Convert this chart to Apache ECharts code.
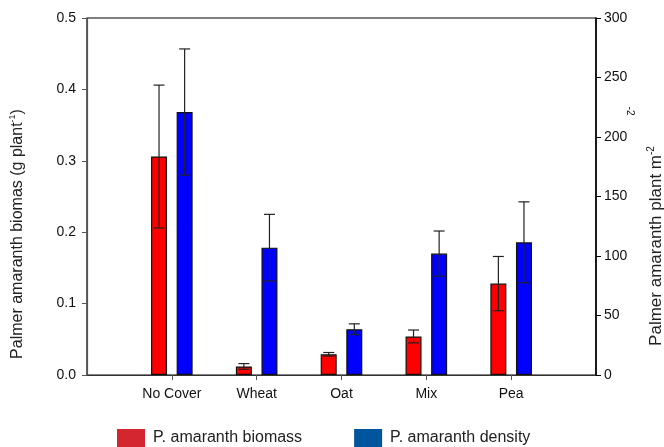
<!DOCTYPE html>
<html>
<head>
<meta charset="utf-8">
<script src="https://cdn.jsdelivr.net/npm/echarts@6/dist/echarts.min.js"></script>
<style>html,body{margin:0;padding:0;background:#fff}#c{width:664px;height:447px}</style>
</head>
<body>
<div id="c"></div>
<script>
// Data
const categories = ['No Cover', 'Wheat', 'Oat', 'Mix', 'Pea'];
const biomass = [0.306, 0.012, 0.029, 0.054, 0.128];
const biomassErr = [0.100, 0.004, 0.0025, 0.009, 0.038];
const density = [221, 107, 38.5, 102, 111.5];
const densityErr = [53, 28, 4.5, 19, 34];
const leftTicks = [0, 0.1, 0.2, 0.3, 0.4, 0.5];
const rightTicks = [0, 50, 100, 150, 200, 250, 300];

// padded category axis: empty slots at both ends
const xCats = [''].concat(categories, ['']);
const pad = arr => ['-'].concat(arr, ['-']);

const FONT = 'Liberation Sans, Arial, sans-serif';
const BAR_W = 16, BAR_GAP = 0.6;
const off = (BAR_W + BAR_W * BAR_GAP) / 2;

function errItem(offset) {
  return function (params, api) {
    const i = api.value(0);
    const v = api.value(1), e = api.value(2);
    const top = api.coord([i, v + e]);
    const bot = api.coord([i, v - e]);
    const x = top[0] + offset;
    const cap = 5.5;
    const st = { stroke: '#222', lineWidth: 1.2 };
    return {
      type: 'group',
      children: [
        { type: 'line', shape: { x1: x, y1: top[1], x2: x, y2: bot[1] }, style: st },
        { type: 'line', shape: { x1: x - cap, y1: top[1], x2: x + cap, y2: top[1] }, style: st },
        { type: 'line', shape: { x1: x - cap, y1: bot[1], x2: x + cap, y2: bot[1] }, style: st }
      ]
    };
  };
}

const chart = echarts.init(document.getElementById('c'), null, { renderer: 'canvas' });
chart.setOption({
  animation: false,
  textStyle: { fontFamily: FONT },
  grid: { left: 87, right: 68, top: 18, bottom: 72, show: true, borderColor: '#000', borderWidth: 1.2, backgroundColor: 'transparent' },
  legend: {
    left: 117, top: 429, padding: 0, itemWidth: 28, itemHeight: 18, itemGap: 52,
    icon: 'rect',
    textStyle: { fontFamily: FONT, fontSize: 16, color: '#222', padding: [0, 0, 0, 3] },
    data: [
      { name: 'P. amaranth biomass', itemStyle: { color: '#d3262f', borderWidth: 0 } },
      { name: 'P. amaranth density', itemStyle: { color: '#00569d', borderWidth: 0 } }
    ]
  },
  xAxis: {
    type: 'category', data: xCats, boundaryGap: false,
    axisLine: { lineStyle: { color: '#333', width: 1.2 } },
    axisTick: { length: 5, lineStyle: { color: '#555' }, interval: (i) => i > 0 && i < xCats.length - 1 },
    axisLabel: { fontFamily: FONT, fontSize: 14, color: '#111', margin: 12, interval: 0 },
    splitLine: { show: false }
  },
  yAxis: [
    {
      type: 'value', min: 0, max: 0.5, interval: 0.1, position: 'left',
      axisLine: { show: true, lineStyle: { color: '#555', width: 1.2 } },
      axisTick: { show: true, length: 5, lineStyle: { color: '#555' } },
      axisLabel: { fontFamily: FONT, fontSize: 14, color: '#111', margin: 11, formatter: v => v.toFixed(1) },
      splitLine: { show: false }
    },
    {
      type: 'value', min: 0, max: 300, interval: 50, position: 'right',
      axisLine: { show: true, lineStyle: { color: '#000', width: 1.5 } },
      axisTick: { show: true, length: 5, lineStyle: { color: '#000' } },
      axisLabel: { fontFamily: FONT, fontSize: 14, color: '#111', margin: 8 },
      splitLine: { show: false }
    }
  ],
  series: [
    {
      name: 'P. amaranth biomass', type: 'bar', yAxisIndex: 0,
      data: pad(biomass), barWidth: BAR_W, barGap: (BAR_GAP * 100) + '%',
      itemStyle: { color: '#ff0000', borderColor: '#111', borderWidth: 1.2 }
    },
    {
      name: 'P. amaranth density', type: 'bar', yAxisIndex: 1,
      data: pad(density), barWidth: BAR_W,
      itemStyle: { color: '#0000ff', borderColor: '#111', borderWidth: 1.2 }
    },
    {
      type: 'custom', yAxisIndex: 0, z: 10,
      data: biomass.map((v, i) => [i + 1, v, biomassErr[i]]),
      renderItem: errItem(-off), encode: { x: 0, y: 1 }
    },
    {
      type: 'custom', yAxisIndex: 1, z: 10,
      data: density.map((v, i) => [i + 1, v, densityErr[i]]),
      renderItem: errItem(off), encode: { x: 0, y: 1 }
    }
  ],
  graphic: [
    {
      type: 'text', x: 18, y: 234, rotation: Math.PI / 2,
      style: {
        text: '{a|Palmer amaranth biomas (g plant}{s|-1}{a|)}',
        align: 'center', verticalAlign: 'middle',
        rich: {
          a: { fontFamily: FONT, fontSize: 16, fill: '#222', lineHeight: 19 },
          s: { fontFamily: FONT, fontSize: 9, fill: '#222', lineHeight: 19, verticalAlign: 'top', padding: [0, 0, 8, 0] }
        }
      }
    },
    {
      type: 'text', x: 656, y: 246, rotation: Math.PI / 2,
      style: {
        text: '{a|Palmer amaranth plant m}{s|-2}',
        align: 'center', verticalAlign: 'middle',
        rich: {
          a: { fontFamily: FONT, fontSize: 17, fill: '#222', lineHeight: 20 },
          s: { fontFamily: FONT, fontSize: 10, fill: '#222', lineHeight: 20, verticalAlign: 'top', padding: [0, 0, 8, 0] }
        }
      }
    },
    {
      type: 'text', x: 630, y: 111, rotation: -Math.PI / 2,
      style: { text: '-2', fontFamily: FONT, fontSize: 10, fill: '#222', align: 'center', verticalAlign: 'middle' }
    }
  ]
});
</script>
</body>
</html>
